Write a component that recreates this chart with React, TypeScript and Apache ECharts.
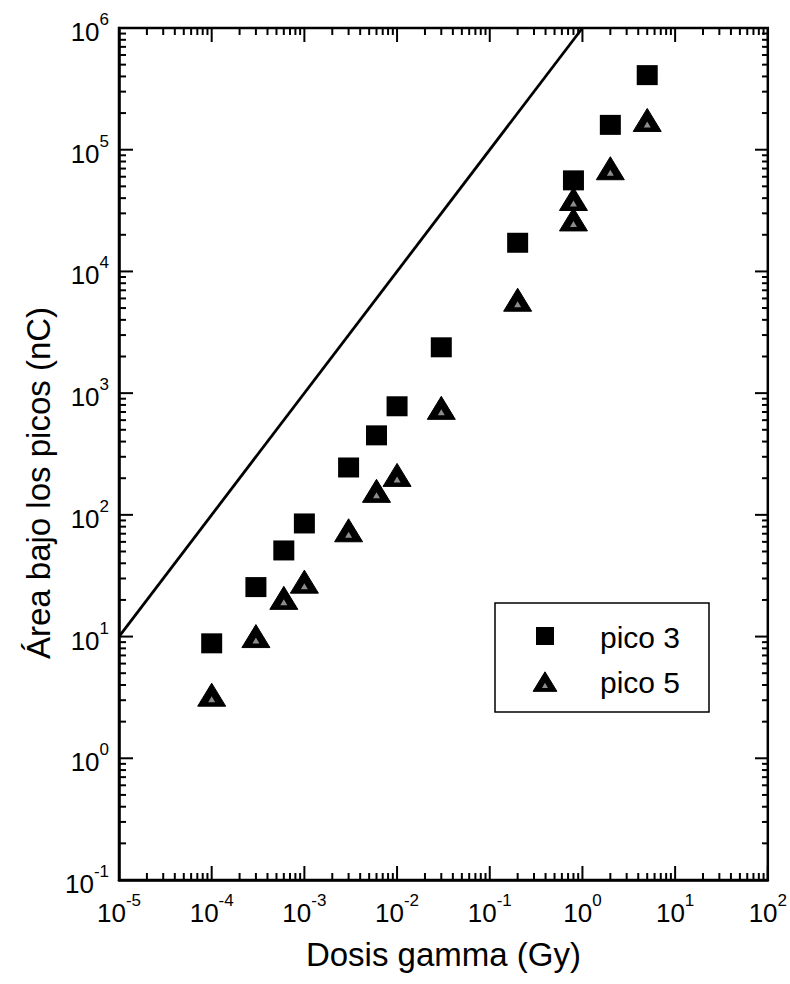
import React, { useEffect, useRef } from "react";
import * as echarts from "echarts";

// Dose (Gy) and integrated peak area (nC) for glow peak 3
const dosePico3 = [1e-4, 3e-4, 6e-4, 1e-3, 3e-3, 6e-3, 1e-2, 3e-2, 0.2, 0.8, 2, 5];
const areaPico3 = [8.8, 25.5, 51, 85, 245, 450, 780, 2380, 17200, 56000, 160000, 410000];

// Dose (Gy) and integrated peak area (nC) for glow peak 5
const dosePico5 = [1e-4, 3e-4, 6e-4, 1e-3, 3e-3, 6e-3, 1e-2, 3e-2, 0.2, 0.8, 0.8, 2, 5];
const areaPico5 = [3.3, 10, 20.6, 28, 74, 156, 211, 750, 5800, 39000, 26500, 69800, 174000];

// Reference line of unit slope (area proportional to dose)
const refLineDose = [1e-5, 1];
const refLineArea = [10, 1e6];

// Axis extents (decades)
const xMin = 1e-5;
const xMax = 1e2;
const yMin = 1e-1;
const yMax = 1e6;

const FONT = '"Liberation Sans", Arial, Helvetica, sans-serif';

const supLabel = (v: number) => {
  const e = Math.round(Math.log10(v));
  return `{b|10}{s|${e}}`;
};

const tickRich = {
  b: { fontSize: 26, fontFamily: FONT, color: "#000", lineHeight: 34, verticalAlign: "bottom" },
  s: { fontSize: 17, fontFamily: FONT, color: "#000", lineHeight: 34, verticalAlign: "top" },
};

function logTicks(min: number, max: number) {
  const major: number[] = [];
  const minor: number[] = [];
  const e0 = Math.round(Math.log10(min));
  const e1 = Math.round(Math.log10(max));
  for (let e = e0; e <= e1; e++) {
    major.push(Math.pow(10, e));
    if (e < e1) {
      for (let m = 2; m <= 9; m++) minor.push(m * Math.pow(10, e));
    }
  }
  return { major, minor };
}

// Solid black triangle with a small stippled core
function triangleShapes(cx: number, cy: number, s: number) {
  return [
    {
      type: "polygon",
      shape: { points: [[cx, cy - 12 * s], [cx + 14 * s, cy + 11 * s], [cx - 14 * s, cy + 11 * s]] },
      style: { fill: "#000", stroke: "#000", lineWidth: 1 },
    },
    {
      type: "polygon",
      shape: { points: [[cx, cy + 1 * s], [cx + 3.5 * s, cy + 7 * s], [cx - 3.5 * s, cy + 7 * s]] },
      style: { fill: "#8c8c8c", stroke: "none", lineWidth: 0 },
    },
  ];
}

export default function App() {
  const ref = useRef<HTMLDivElement>(null);

  useEffect(() => {
    if (!ref.current) return;
    const chart = echarts.init(ref.current, null, { renderer: "svg" });

    const grid = { left: 119, top: 28, right: 21, bottom: 104 };

    chart.setOption({
      animation: false,
      backgroundColor: "#fff",
      grid: {
        ...grid,
        show: true,
        borderColor: "#000",
        borderWidth: 2.5,
        backgroundColor: "transparent",
      },
      xAxis: {
        type: "log",
        logBase: 10,
        min: xMin,
        max: xMax,
        name: "Dosis gamma (Gy)",
        nameLocation: "middle",
        nameGap: 58,
        nameTextStyle: { fontSize: 33, fontFamily: FONT, color: "#000" },
        axisLine: { show: true, lineStyle: { color: "#000", width: 2.5 } },
        axisTick: { show: false },
        splitLine: { show: false },
        axisLabel: { formatter: supLabel, rich: tickRich, margin: 12 },
      },
      yAxis: {
        type: "log",
        logBase: 10,
        min: yMin,
        max: yMax,
        axisLine: { show: true, lineStyle: { color: "#000", width: 2.5 } },
        axisTick: { show: false },
        splitLine: { show: false },
        axisLabel: { formatter: supLabel, rich: tickRich, margin: 10 },
      },
      series: [
        {
          name: "referencia",
          type: "line",
          data: refLineDose.map((d, i) => [d, refLineArea[i]]),
          symbol: "none",
          lineStyle: { color: "#000", width: 2.8 },
          z: 2,
        },
        {
          name: "pico 3",
          type: "scatter",
          data: dosePico3.map((d, i) => [d, areaPico3[i]]),
          symbol: "rect",
          symbolSize: [21, 20],
          itemStyle: { color: "#000", opacity: 1 },
          z: 3,
        },
        {
          name: "pico 5",
          type: "custom",
          data: dosePico5.map((d, i) => [d, areaPico5[i]]),
          renderItem: (params: any, api: any) => {
            const p = api.coord([api.value(0), api.value(1)]);
            return { type: "group", children: triangleShapes(p[0], p[1], 1) };
          },
          z: 4,
        },
      ],
    });

    // Mirrored inward ticks on all four sides, with 2..9 minor ticks per decade
    const left = grid.left;
    const top = grid.top;
    const right = 790 - grid.right;
    const bottom = 984 - grid.bottom;
    const xt = logTicks(xMin, xMax);
    const yt = logTicks(yMin, yMax);
    const tickStyle = { stroke: "#000", lineWidth: 2 };
    const elements: any[] = [];
    const addX = (vals: number[], len: number) => {
      vals.forEach((v) => {
        const px = chart.convertToPixel({ xAxisIndex: 0 }, v) as number;
        elements.push({ type: "line", shape: { x1: px, y1: bottom, x2: px, y2: bottom - len }, style: tickStyle, silent: true });
        elements.push({ type: "line", shape: { x1: px, y1: top, x2: px, y2: top + len }, style: tickStyle, silent: true });
      });
    };
    const addY = (vals: number[], len: number) => {
      vals.forEach((v) => {
        const py = chart.convertToPixel({ yAxisIndex: 0 }, v) as number;
        elements.push({ type: "line", shape: { x1: left, y1: py, x2: left + len, y2: py }, style: tickStyle, silent: true });
        elements.push({ type: "line", shape: { x1: right, y1: py, x2: right - len, y2: py }, style: tickStyle, silent: true });
      });
    };
    addX(xt.major, 14);
    addX(xt.minor, 7);
    addY(yt.major, 14);
    addY(yt.minor, 7);

    // Y axis title
    elements.push({
      type: "text",
      x: 38,
      y: 483,
      rotation: Math.PI / 2,
      style: {
        text: "Área bajo los picos (nC)",
        fontSize: 33,
        fontFamily: FONT,
        fill: "#000",
        align: "center",
        verticalAlign: "middle",
      },
    });

    // Legend box
    elements.push({
      type: "rect",
      shape: { x: 495, y: 603, width: 214, height: 109 },
      style: { fill: "#fff", stroke: "#000", lineWidth: 1.5 },
      z: 10,
    });
    elements.push({
      type: "rect",
      shape: { x: 536, y: 627, width: 18, height: 18 },
      style: { fill: "#000" },
      z: 11,
    });
    triangleShapes(545, 682, 0.85).forEach((el) => elements.push({ ...el, z: 11 }));
    elements.push({
      type: "text",
      x: 600,
      y: 637,
      style: { text: "pico 3", fontSize: 30, fontFamily: FONT, fill: "#000", verticalAlign: "middle" },
      z: 11,
    });
    elements.push({
      type: "text",
      x: 600,
      y: 682,
      style: { text: "pico 5", fontSize: 30, fontFamily: FONT, fill: "#000", verticalAlign: "middle" },
      z: 11,
    });

    chart.setOption({ graphic: { elements } });

    return () => chart.dispose();
  }, []);

  return (
    <div
      ref={ref}
      style={{ position: "fixed", left: 0, top: 0, width: 790, height: 984, background: "#fff" }}
    />
  );
}
